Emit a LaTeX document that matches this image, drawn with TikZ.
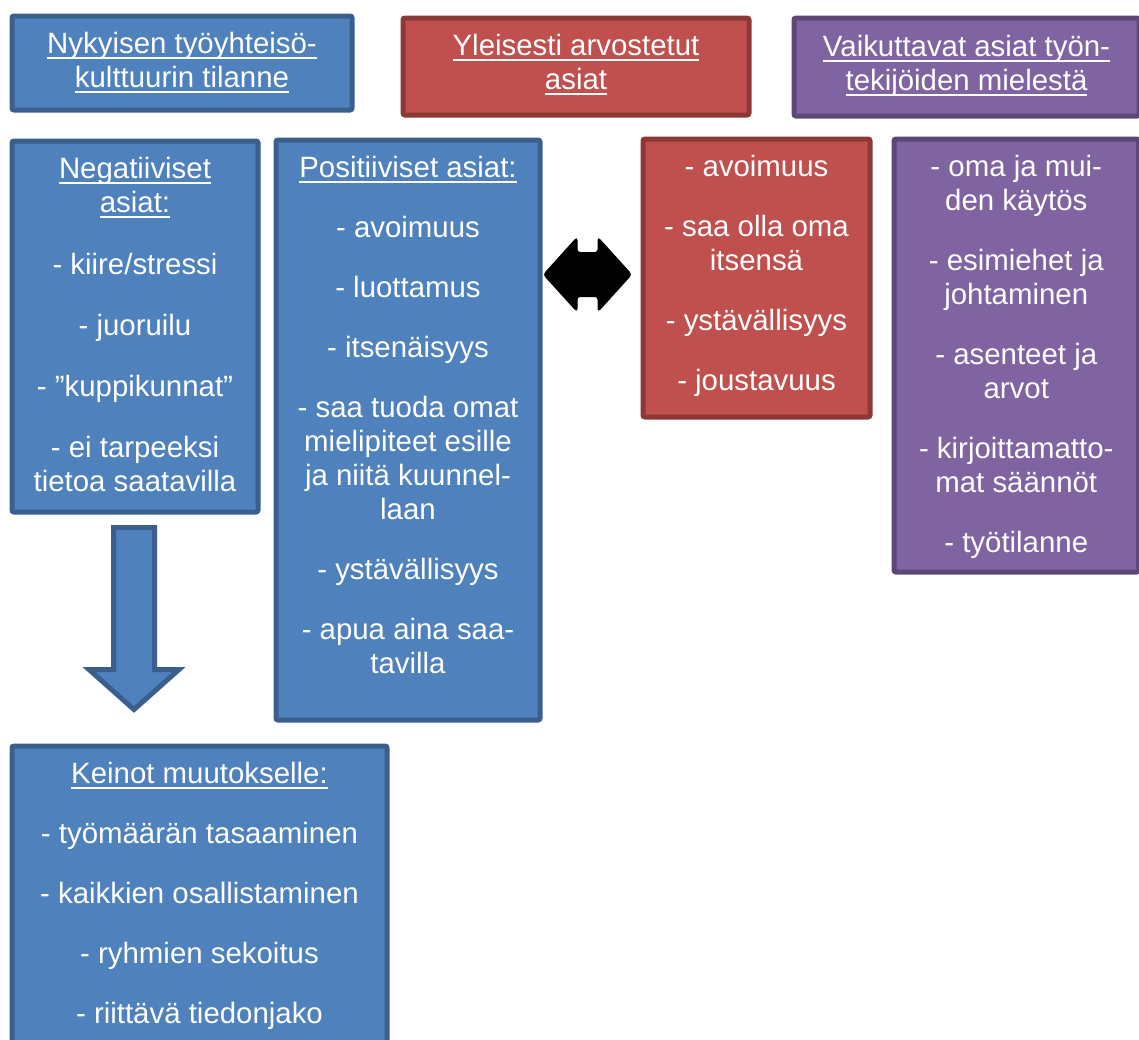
\documentclass[tikz,border=0pt]{standalone}
\usepackage{fontspec}
\setmainfont{Liberation Sans}
\usepackage{tikz}
\usetikzlibrary{positioning, calc}
\definecolor{blueF}{HTML}{4F81BD}
\definecolor{blueD}{HTML}{3A5F8C}
\definecolor{redF}{HTML}{C0504D}
\definecolor{redD}{HTML}{8C3836}
\definecolor{violetF}{HTML}{8064A2}
\definecolor{violetD}{HTML}{5C4776}
\newcommand{\headline}[1]{\sbox0{#1}\rlap{\rule[-5.5pt]{\wd0}{2.5pt}}\usebox0}

\begin{document}
\begin{tikzpicture}[x=1pt, y=-1pt,
    panel/.style={draw, line width=5pt, rounded corners=2pt, inner sep=0pt, anchor=north west},
    bluepanel/.style={panel, fill=blueF, draw=blueD},
    redpanel/.style={panel, fill=redF, draw=redD},
    violetpanel/.style={panel, fill=violetF, draw=violetD},
    txt/.style={text=white, align=center, inner sep=0pt, font=\fontsize{29.4}{34}\selectfont,
        execute at begin node=\rule{0pt}{30pt}},
    blockarrow/.style={fill=blueF, draw=blueD, line width=5pt}]
    \useasboundingbox (0,0) rectangle (1139,1039);

    % otsikot
    \node[bluepanel, minimum width=340pt, minimum height=94pt] (state) at (9.5,13.5) {};
    \node[redpanel, minimum width=346pt, minimum height=97pt] (valued) at (400.5,15.5) {};
    \node[violetpanel, minimum width=345pt, minimum height=98pt] (affect) at (791.5,15.5) {};
    \node[txt, below=18.5pt of state.north] (statetxt) {\headline{Nykyisen työyhteisö-}\\ \headline{kulttuurin tilanne}};
    \node[txt, below=18.5pt of valued.north] (valuedtxt) {\headline{Yleisesti arvostetut}\\ \headline{asiat}};
    \node[txt, below=19.5pt of affect.north] (affecttxt) {\headline{Vaikuttavat asiat työn-}\\ \headline{tekijöiden mielestä}};

    % listat
    \node[bluepanel, minimum width=246pt, minimum height=371pt] (neg) at (9.5,138.5) {};
    \node[bluepanel, minimum width=264pt, minimum height=580pt] (pos) at (273.5,137.5) {};
    \node[redpanel, minimum width=227pt, minimum height=278pt] (vallist) at (640.5,136.5) {};
    \node[violetpanel, minimum width=244.5pt, minimum height=433pt] (afflist) at (891.5,136.5) {};
    \node[bluepanel, minimum width=375pt, minimum height=327pt] (ways) at (9.5,743.5) {};

    \node[txt, below=18.5pt of neg.north] (negtxt) {\headline{Negatiiviset}\\ \headline{asiat:}\\[28pt]
        - kiire/stressi\\[27pt] - juoruilu\\[27pt] - ”kuppikunnat”\\[27pt] - ei tarpeeksi\\ tietoa saatavilla};
    \node[txt, below=18.5pt of pos.north] (postxt) {\headline{Positiiviset asiat:}\\[26pt]
        - avoimuus\\[26pt] - luottamus\\[26pt] - itsenäisyys\\[26pt] - saa tuoda omat\\ mielipiteet esille\\
        ja niitä kuunnel-\\ laan\\[26pt] - ystävällisyys\\[26pt] - apua aina saa-\\ tavilla};
    \node[txt, below=18.5pt of vallist.north] (valtxt) {- avoimuus\\[26pt] - saa olla oma\\ itsensä\\[26pt]
        - ystävällisyys\\[26pt] - joustavuus};
    \node[txt, below=18.5pt of afflist.north] (afftxt) {- oma ja mui-\\ den käytös\\[26pt] - esimiehet ja\\ johtaminen\\[26pt]
        - asenteet ja\\ arvot\\[26pt] - kirjoittamatto-\\ mat säännöt\\[26pt] - työtilanne};
    \node[txt, below=18.5pt of ways.north] (waystxt) {\headline{Keinot muutokselle:}\\[26pt]
        - työmäärän tasaaminen\\[26pt] - kaikkien osallistaminen\\[26pt] - ryhmien sekoitus\\[26pt] - riittävä tiedonjako};

    % nuolet
    \coordinate (down) at (134,527.5);
    \draw[blockarrow, shift={(down)}] (-20.5,0) -- (20.5,0) -- (20.5,142) -- (45,142) -- (0,182)
        -- (-45,142) -- (-20.5,142) -- cycle;
    \coordinate (swap) at (587.5,274.5);
    \draw[fill=black, line width=1pt, rounded corners=3pt, shift={(swap)}] (-44,0) -- (-10.5,-37) -- (-10.5,-22)
        -- (10.5,-22) -- (10.5,-37) -- (44,0) -- (10.5,37) -- (10.5,22) -- (-10.5,22) -- (-10.5,37) -- cycle;
\end{tikzpicture}
\end{document}
